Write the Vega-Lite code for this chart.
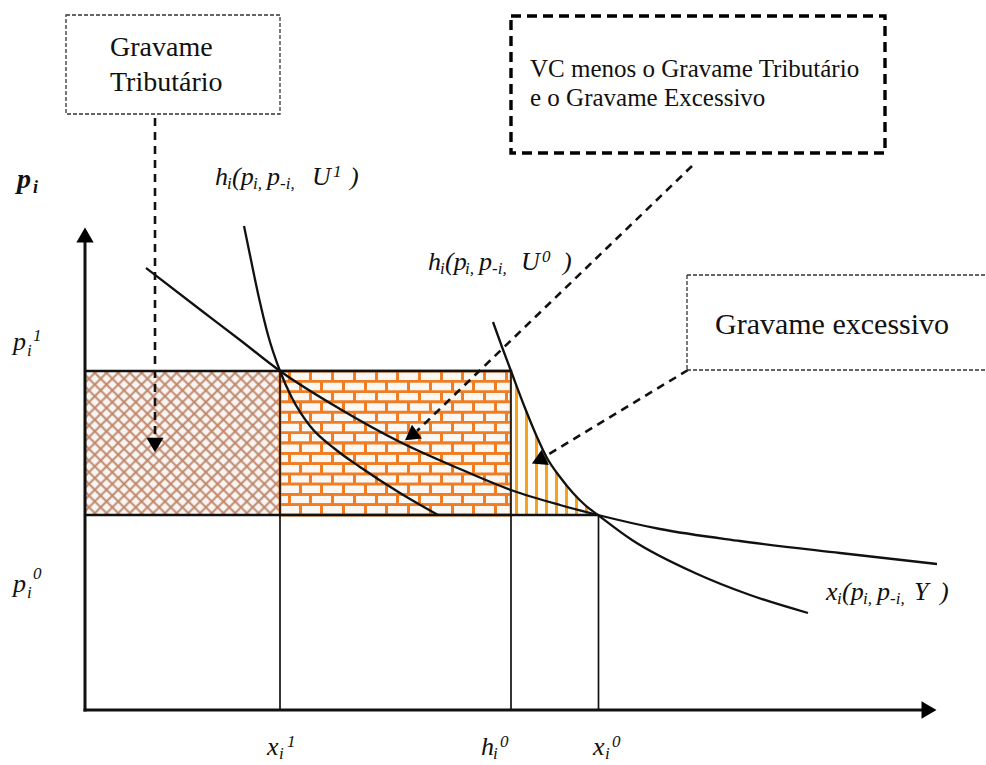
{
  "$schema": "https://vega.github.io/schema/vega-lite/v6.json",
  "width": 986,
  "height": 765,
  "padding": 0,
  "autosize": {"type": "none"},
  "background": "white",
  "config": {"view": {"stroke": null}},
  "datasets": {
    "hatch": [{"x": 85, "x2": 280, "y": 371, "y2": 515}],
    "brickA": [
      {"x": 280, "x2": 511, "y": 371, "y2": 381.3},
      {"x": 280, "x2": 511, "y": 391.6, "y2": 401.9},
      {"x": 280, "x2": 511, "y": 412.1, "y2": 422.4},
      {"x": 280, "x2": 511, "y": 432.7, "y2": 443},
      {"x": 280, "x2": 511, "y": 453.3, "y2": 463.6},
      {"x": 280, "x2": 511, "y": 473.9, "y2": 484.1},
      {"x": 280, "x2": 511, "y": 494.4, "y2": 504.7}
    ],
    "brickB": [
      {"x": 280, "x2": 511, "y": 381.3, "y2": 391.6},
      {"x": 280, "x2": 511, "y": 401.9, "y2": 412.1},
      {"x": 280, "x2": 511, "y": 422.4, "y2": 432.7},
      {"x": 280, "x2": 511, "y": 443, "y2": 453.3},
      {"x": 280, "x2": 511, "y": 463.6, "y2": 473.9},
      {"x": 280, "x2": 511, "y": 484.1, "y2": 494.4},
      {"x": 280, "x2": 511, "y": 504.7, "y2": 515}
    ],
    "tri": [
      {"x": 511, "y": 371, "y2": 515},
      {"x": 525, "y": 408, "y2": 515},
      {"x": 537, "y": 437, "y2": 515},
      {"x": 547, "y": 458, "y2": 515},
      {"x": 560, "y": 477, "y2": 515},
      {"x": 573, "y": 493, "y2": 515},
      {"x": 585, "y": 505, "y2": 515},
      {"x": 598, "y": 515, "y2": 515}
    ],
    "axes": [
      {"x": 85, "y": 242, "x2": 85, "y2": 711.5},
      {"x": 83.5, "y": 710, "x2": 925, "y2": 710}
    ],
    "hlines": [
      {"x": 85, "y": 371, "x2": 511, "y2": 371},
      {"x": 85, "y": 515, "x2": 598, "y2": 515}
    ],
    "vlines": [
      {"x": 280, "y": 371, "x2": 280, "y2": 710},
      {"x": 511, "y": 371, "x2": 511, "y2": 710},
      {"x": 598.5, "y": 515, "x2": 598.5, "y2": 710}
    ],
    "curves": [
      {"c": "x", "x": 146, "y": 268}, {"c": "x", "x": 200, "y": 309.5}, {"c": "x", "x": 240, "y": 340},
      {"c": "x", "x": 280, "y": 371}, {"c": "x", "x": 340, "y": 409}, {"c": "x", "x": 400, "y": 442},
      {"c": "x", "x": 460, "y": 469}, {"c": "x", "x": 511, "y": 490}, {"c": "x", "x": 560, "y": 505},
      {"c": "x", "x": 598, "y": 515}, {"c": "x", "x": 660, "y": 529}, {"c": "x", "x": 740, "y": 541},
      {"c": "x", "x": 840, "y": 553}, {"c": "x", "x": 937, "y": 564},
      {"c": "h1", "x": 244, "y": 226}, {"c": "h1", "x": 251, "y": 260}, {"c": "h1", "x": 259, "y": 298},
      {"c": "h1", "x": 268, "y": 335}, {"c": "h1", "x": 280, "y": 371}, {"c": "h1", "x": 292, "y": 398},
      {"c": "h1", "x": 310, "y": 426}, {"c": "h1", "x": 335, "y": 449}, {"c": "h1", "x": 360, "y": 467},
      {"c": "h1", "x": 400, "y": 493}, {"c": "h1", "x": 438, "y": 515},
      {"c": "h0", "x": 493, "y": 322}, {"c": "h0", "x": 502, "y": 347}, {"c": "h0", "x": 511, "y": 371},
      {"c": "h0", "x": 525, "y": 408}, {"c": "h0", "x": 537, "y": 437}, {"c": "h0", "x": 547, "y": 458},
      {"c": "h0", "x": 560, "y": 477}, {"c": "h0", "x": 573, "y": 493}, {"c": "h0", "x": 585, "y": 505},
      {"c": "h0", "x": 598, "y": 515}, {"c": "h0", "x": 632, "y": 540}, {"c": "h0", "x": 695, "y": 573},
      {"c": "h0", "x": 750, "y": 595}, {"c": "h0", "x": 808, "y": 613}
    ],
    "leaders": [
      {"x": 155, "y": 118, "x2": 155, "y2": 438},
      {"x": 692, "y": 166, "x2": 417, "y2": 431},
      {"x": 688, "y": 370, "x2": 549, "y2": 454}
    ],
    "axisArrows": [
      {"x": 85, "y": 235, "a": 0},
      {"x": 929, "y": 710, "a": 90}
    ],
    "leaderArrows": [
      {"x": 155, "y": 445, "a": 180},
      {"x": 411, "y": 436, "a": 234},
      {"x": 541, "y": 457, "a": 5}
    ],
    "boxA": [{"x": 66, "x2": 280, "y": 15, "y2": 114}],
    "boxB": [{"x": 511, "x2": 885, "y": 16, "y2": 153}],
    "boxC": [
      {"x": 687, "y": 275, "x2": 985, "y2": 275},
      {"x": 687, "y": 275, "x2": 687, "y2": 370},
      {"x": 687, "y": 370, "x2": 985, "y2": 370}
    ],
    "boxText": [
      {"b": "A", "x": 110, "y": 56, "t": "Gravame"},
      {"b": "A", "x": 110, "y": 91, "t": "Tributário"},
      {"b": "B", "x": 530, "y": 77, "t": "VC menos o Gravame Tributário"},
      {"b": "B", "x": 530, "y": 106, "t": "e o Gravame Excessivo"},
      {"b": "C", "x": 715, "y": 334, "t": "Gravame excessivo"}
    ],
    "math": [
      {"k": "bb", "x": 17, "y": 188, "t": "p"},
      {"k": "bs", "x": 33, "y": 193, "t": "i"},
      {"k": "b", "x": 215, "y": 185, "t": "h"},
      {"k": "s", "x": 227, "y": 189, "t": "i"},
      {"k": "b", "x": 232, "y": 185, "t": "(p"},
      {"k": "s", "x": 253, "y": 189, "t": "i,"},
      {"k": "b", "x": 267, "y": 185, "t": "p"},
      {"k": "s", "x": 280, "y": 189, "t": "-i,"},
      {"k": "b", "x": 312, "y": 185, "t": "U"},
      {"k": "s", "x": 333, "y": 177, "t": "1"},
      {"k": "b", "x": 350, "y": 185, "t": ")"},
      {"k": "b", "x": 428, "y": 270, "t": "h"},
      {"k": "s", "x": 440, "y": 274, "t": "i"},
      {"k": "b", "x": 445, "y": 270, "t": "(p"},
      {"k": "s", "x": 465, "y": 274, "t": "i,"},
      {"k": "b", "x": 479, "y": 270, "t": "p"},
      {"k": "s", "x": 492, "y": 274, "t": "-i,"},
      {"k": "b", "x": 521, "y": 270, "t": "U"},
      {"k": "s", "x": 542, "y": 262, "t": "0"},
      {"k": "b", "x": 563, "y": 270, "t": ")"},
      {"k": "b", "x": 826, "y": 600, "t": "x"},
      {"k": "s", "x": 837, "y": 604, "t": "i"},
      {"k": "b", "x": 842, "y": 600, "t": "(p"},
      {"k": "s", "x": 863, "y": 604, "t": "i,"},
      {"k": "b", "x": 877, "y": 600, "t": "p"},
      {"k": "s", "x": 890, "y": 604, "t": "-i,"},
      {"k": "b", "x": 914, "y": 600, "t": "Y"},
      {"k": "b", "x": 940, "y": 600, "t": ")"},
      {"k": "b", "x": 13, "y": 350, "t": "p"},
      {"k": "s", "x": 27, "y": 356, "t": "i"},
      {"k": "s", "x": 33, "y": 341, "t": "1"},
      {"k": "b", "x": 13, "y": 592, "t": "p"},
      {"k": "s", "x": 27, "y": 598, "t": "i"},
      {"k": "s", "x": 33, "y": 579, "t": "0"},
      {"k": "b", "x": 267, "y": 755, "t": "x"},
      {"k": "s", "x": 279, "y": 759, "t": "i"},
      {"k": "s", "x": 287, "y": 747, "t": "1"},
      {"k": "b", "x": 481, "y": 755, "t": "h"},
      {"k": "s", "x": 493, "y": 759, "t": "i"},
      {"k": "s", "x": 500, "y": 747, "t": "0"},
      {"k": "b", "x": 593, "y": 755, "t": "x"},
      {"k": "s", "x": 605, "y": 759, "t": "i"},
      {"k": "s", "x": 612, "y": 747, "t": "0"}
    ]
  },
  "encoding": {
    "x": {"field": "x", "type": "quantitative", "scale": {"domain": [0, 986], "nice": false, "zero": false}, "axis": null},
    "y": {"field": "y", "type": "quantitative", "scale": {"domain": [0, 765], "nice": false, "zero": false, "reverse": true}, "axis": null}
  },
  "layer": [
    {
      "data": {"name": "hatch"},
      "mark": {"type": "rect", "strokeWidth": 0, "fill": {"gradient": "linear", "x1": 0, "y1": 0, "x2": 1.125, "y2": 0.831, "stops": [
        {"offset": 0, "color": "#bf8466"}, {"offset": 0.008, "color": "#f7f5f3"},
        {"offset": 0.0265, "color": "#f7f5f3"}, {"offset": 0.0345, "color": "#bf8466"}, {"offset": 0.0425, "color": "#f7f5f3"},
        {"offset": 0.0610, "color": "#f7f5f3"}, {"offset": 0.0690, "color": "#bf8466"}, {"offset": 0.0770, "color": "#f7f5f3"},
        {"offset": 0.0954, "color": "#f7f5f3"}, {"offset": 0.1034, "color": "#bf8466"}, {"offset": 0.1114, "color": "#f7f5f3"},
        {"offset": 0.1299, "color": "#f7f5f3"}, {"offset": 0.1379, "color": "#bf8466"}, {"offset": 0.1459, "color": "#f7f5f3"},
        {"offset": 0.1644, "color": "#f7f5f3"}, {"offset": 0.1724, "color": "#bf8466"}, {"offset": 0.1804, "color": "#f7f5f3"},
        {"offset": 0.1989, "color": "#f7f5f3"}, {"offset": 0.2069, "color": "#bf8466"}, {"offset": 0.2149, "color": "#f7f5f3"},
        {"offset": 0.2334, "color": "#f7f5f3"}, {"offset": 0.2414, "color": "#bf8466"}, {"offset": 0.2494, "color": "#f7f5f3"},
        {"offset": 0.2679, "color": "#f7f5f3"}, {"offset": 0.2759, "color": "#bf8466"}, {"offset": 0.2839, "color": "#f7f5f3"},
        {"offset": 0.3023, "color": "#f7f5f3"}, {"offset": 0.3103, "color": "#bf8466"}, {"offset": 0.3183, "color": "#f7f5f3"},
        {"offset": 0.3368, "color": "#f7f5f3"}, {"offset": 0.3448, "color": "#bf8466"}, {"offset": 0.3528, "color": "#f7f5f3"},
        {"offset": 0.3713, "color": "#f7f5f3"}, {"offset": 0.3793, "color": "#bf8466"}, {"offset": 0.3873, "color": "#f7f5f3"},
        {"offset": 0.4058, "color": "#f7f5f3"}, {"offset": 0.4138, "color": "#bf8466"}, {"offset": 0.4218, "color": "#f7f5f3"},
        {"offset": 0.4403, "color": "#f7f5f3"}, {"offset": 0.4483, "color": "#bf8466"}, {"offset": 0.4563, "color": "#f7f5f3"},
        {"offset": 0.4748, "color": "#f7f5f3"}, {"offset": 0.4828, "color": "#bf8466"}, {"offset": 0.4908, "color": "#f7f5f3"},
        {"offset": 0.5092, "color": "#f7f5f3"}, {"offset": 0.5172, "color": "#bf8466"}, {"offset": 0.5252, "color": "#f7f5f3"},
        {"offset": 0.5437, "color": "#f7f5f3"}, {"offset": 0.5517, "color": "#bf8466"}, {"offset": 0.5597, "color": "#f7f5f3"},
        {"offset": 0.5782, "color": "#f7f5f3"}, {"offset": 0.5862, "color": "#bf8466"}, {"offset": 0.5942, "color": "#f7f5f3"},
        {"offset": 0.6127, "color": "#f7f5f3"}, {"offset": 0.6207, "color": "#bf8466"}, {"offset": 0.6287, "color": "#f7f5f3"},
        {"offset": 0.6472, "color": "#f7f5f3"}, {"offset": 0.6552, "color": "#bf8466"}, {"offset": 0.6632, "color": "#f7f5f3"},
        {"offset": 0.6817, "color": "#f7f5f3"}, {"offset": 0.6897, "color": "#bf8466"}, {"offset": 0.6977, "color": "#f7f5f3"},
        {"offset": 0.7161, "color": "#f7f5f3"}, {"offset": 0.7241, "color": "#bf8466"}, {"offset": 0.7321, "color": "#f7f5f3"},
        {"offset": 0.7506, "color": "#f7f5f3"}, {"offset": 0.7586, "color": "#bf8466"}, {"offset": 0.7666, "color": "#f7f5f3"},
        {"offset": 0.7851, "color": "#f7f5f3"}, {"offset": 0.7931, "color": "#bf8466"}, {"offset": 0.8011, "color": "#f7f5f3"},
        {"offset": 0.8196, "color": "#f7f5f3"}, {"offset": 0.8276, "color": "#bf8466"}, {"offset": 0.8356, "color": "#f7f5f3"},
        {"offset": 0.8541, "color": "#f7f5f3"}, {"offset": 0.8621, "color": "#bf8466"}, {"offset": 0.8701, "color": "#f7f5f3"},
        {"offset": 0.8886, "color": "#f7f5f3"}, {"offset": 0.8966, "color": "#bf8466"}, {"offset": 0.9046, "color": "#f7f5f3"},
        {"offset": 0.9230, "color": "#f7f5f3"}, {"offset": 0.9310, "color": "#bf8466"}, {"offset": 0.9390, "color": "#f7f5f3"},
        {"offset": 0.9575, "color": "#f7f5f3"}, {"offset": 0.9655, "color": "#bf8466"}, {"offset": 0.9735, "color": "#f7f5f3"},
        {"offset": 0.992, "color": "#f7f5f3"}, {"offset": 1, "color": "#bf8466"}
      ]}},
      "encoding": {"x2": {"field": "x2"}, "y2": {"field": "y2"}}
    },
    {
      "data": {"name": "hatch"},
      "mark": {"type": "rect", "strokeWidth": 0, "fill": {"gradient": "linear", "x1": 0, "y1": 1, "x2": 1.125, "y2": 0.169, "stops": [
        {"offset": 0, "color": "#bf8466"}, {"offset": 0.008, "color": "rgba(191,132,102,0)"},
        {"offset": 0.0265, "color": "rgba(191,132,102,0)"}, {"offset": 0.0345, "color": "#bf8466"}, {"offset": 0.0425, "color": "rgba(191,132,102,0)"},
        {"offset": 0.0610, "color": "rgba(191,132,102,0)"}, {"offset": 0.0690, "color": "#bf8466"}, {"offset": 0.0770, "color": "rgba(191,132,102,0)"},
        {"offset": 0.0954, "color": "rgba(191,132,102,0)"}, {"offset": 0.1034, "color": "#bf8466"}, {"offset": 0.1114, "color": "rgba(191,132,102,0)"},
        {"offset": 0.1299, "color": "rgba(191,132,102,0)"}, {"offset": 0.1379, "color": "#bf8466"}, {"offset": 0.1459, "color": "rgba(191,132,102,0)"},
        {"offset": 0.1644, "color": "rgba(191,132,102,0)"}, {"offset": 0.1724, "color": "#bf8466"}, {"offset": 0.1804, "color": "rgba(191,132,102,0)"},
        {"offset": 0.1989, "color": "rgba(191,132,102,0)"}, {"offset": 0.2069, "color": "#bf8466"}, {"offset": 0.2149, "color": "rgba(191,132,102,0)"},
        {"offset": 0.2334, "color": "rgba(191,132,102,0)"}, {"offset": 0.2414, "color": "#bf8466"}, {"offset": 0.2494, "color": "rgba(191,132,102,0)"},
        {"offset": 0.2679, "color": "rgba(191,132,102,0)"}, {"offset": 0.2759, "color": "#bf8466"}, {"offset": 0.2839, "color": "rgba(191,132,102,0)"},
        {"offset": 0.3023, "color": "rgba(191,132,102,0)"}, {"offset": 0.3103, "color": "#bf8466"}, {"offset": 0.3183, "color": "rgba(191,132,102,0)"},
        {"offset": 0.3368, "color": "rgba(191,132,102,0)"}, {"offset": 0.3448, "color": "#bf8466"}, {"offset": 0.3528, "color": "rgba(191,132,102,0)"},
        {"offset": 0.3713, "color": "rgba(191,132,102,0)"}, {"offset": 0.3793, "color": "#bf8466"}, {"offset": 0.3873, "color": "rgba(191,132,102,0)"},
        {"offset": 0.4058, "color": "rgba(191,132,102,0)"}, {"offset": 0.4138, "color": "#bf8466"}, {"offset": 0.4218, "color": "rgba(191,132,102,0)"},
        {"offset": 0.4403, "color": "rgba(191,132,102,0)"}, {"offset": 0.4483, "color": "#bf8466"}, {"offset": 0.4563, "color": "rgba(191,132,102,0)"},
        {"offset": 0.4748, "color": "rgba(191,132,102,0)"}, {"offset": 0.4828, "color": "#bf8466"}, {"offset": 0.4908, "color": "rgba(191,132,102,0)"},
        {"offset": 0.5092, "color": "rgba(191,132,102,0)"}, {"offset": 0.5172, "color": "#bf8466"}, {"offset": 0.5252, "color": "rgba(191,132,102,0)"},
        {"offset": 0.5437, "color": "rgba(191,132,102,0)"}, {"offset": 0.5517, "color": "#bf8466"}, {"offset": 0.5597, "color": "rgba(191,132,102,0)"},
        {"offset": 0.5782, "color": "rgba(191,132,102,0)"}, {"offset": 0.5862, "color": "#bf8466"}, {"offset": 0.5942, "color": "rgba(191,132,102,0)"},
        {"offset": 0.6127, "color": "rgba(191,132,102,0)"}, {"offset": 0.6207, "color": "#bf8466"}, {"offset": 0.6287, "color": "rgba(191,132,102,0)"},
        {"offset": 0.6472, "color": "rgba(191,132,102,0)"}, {"offset": 0.6552, "color": "#bf8466"}, {"offset": 0.6632, "color": "rgba(191,132,102,0)"},
        {"offset": 0.6817, "color": "rgba(191,132,102,0)"}, {"offset": 0.6897, "color": "#bf8466"}, {"offset": 0.6977, "color": "rgba(191,132,102,0)"},
        {"offset": 0.7161, "color": "rgba(191,132,102,0)"}, {"offset": 0.7241, "color": "#bf8466"}, {"offset": 0.7321, "color": "rgba(191,132,102,0)"},
        {"offset": 0.7506, "color": "rgba(191,132,102,0)"}, {"offset": 0.7586, "color": "#bf8466"}, {"offset": 0.7666, "color": "rgba(191,132,102,0)"},
        {"offset": 0.7851, "color": "rgba(191,132,102,0)"}, {"offset": 0.7931, "color": "#bf8466"}, {"offset": 0.8011, "color": "rgba(191,132,102,0)"},
        {"offset": 0.8196, "color": "rgba(191,132,102,0)"}, {"offset": 0.8276, "color": "#bf8466"}, {"offset": 0.8356, "color": "rgba(191,132,102,0)"},
        {"offset": 0.8541, "color": "rgba(191,132,102,0)"}, {"offset": 0.8621, "color": "#bf8466"}, {"offset": 0.8701, "color": "rgba(191,132,102,0)"},
        {"offset": 0.8886, "color": "rgba(191,132,102,0)"}, {"offset": 0.8966, "color": "#bf8466"}, {"offset": 0.9046, "color": "rgba(191,132,102,0)"},
        {"offset": 0.9230, "color": "rgba(191,132,102,0)"}, {"offset": 0.9310, "color": "#bf8466"}, {"offset": 0.9390, "color": "rgba(191,132,102,0)"},
        {"offset": 0.9575, "color": "rgba(191,132,102,0)"}, {"offset": 0.9655, "color": "#bf8466"}, {"offset": 0.9735, "color": "rgba(191,132,102,0)"},
        {"offset": 0.992, "color": "rgba(191,132,102,0)"}, {"offset": 1, "color": "#bf8466"}
      ]}},
      "encoding": {"x2": {"field": "x2"}, "y2": {"field": "y2"}}
    },
    {
      "data": {"name": "brickA"},
      "mark": {"type": "rect", "stroke": "#f07d24", "strokeWidth": 2.8, "fill": {"gradient": "linear", "x1": 0, "y1": 0, "x2": 1, "y2": 0, "stops": [
        {"offset": 0, "color": "#fbf8f4"},
        {"offset": 0.0335, "color": "#fbf8f4"}, {"offset": 0.0335, "color": "#f07d24"}, {"offset": 0.0465, "color": "#f07d24"}, {"offset": 0.0465, "color": "#fbf8f4"},
        {"offset": 0.1275, "color": "#fbf8f4"}, {"offset": 0.1275, "color": "#f07d24"}, {"offset": 0.1405, "color": "#f07d24"}, {"offset": 0.1405, "color": "#fbf8f4"},
        {"offset": 0.2215, "color": "#fbf8f4"}, {"offset": 0.2215, "color": "#f07d24"}, {"offset": 0.2345, "color": "#f07d24"}, {"offset": 0.2345, "color": "#fbf8f4"},
        {"offset": 0.3155, "color": "#fbf8f4"}, {"offset": 0.3155, "color": "#f07d24"}, {"offset": 0.3285, "color": "#f07d24"}, {"offset": 0.3285, "color": "#fbf8f4"},
        {"offset": 0.4095, "color": "#fbf8f4"}, {"offset": 0.4095, "color": "#f07d24"}, {"offset": 0.4225, "color": "#f07d24"}, {"offset": 0.4225, "color": "#fbf8f4"},
        {"offset": 0.5035, "color": "#fbf8f4"}, {"offset": 0.5035, "color": "#f07d24"}, {"offset": 0.5165, "color": "#f07d24"}, {"offset": 0.5165, "color": "#fbf8f4"},
        {"offset": 0.5975, "color": "#fbf8f4"}, {"offset": 0.5975, "color": "#f07d24"}, {"offset": 0.6105, "color": "#f07d24"}, {"offset": 0.6105, "color": "#fbf8f4"},
        {"offset": 0.6915, "color": "#fbf8f4"}, {"offset": 0.6915, "color": "#f07d24"}, {"offset": 0.7045, "color": "#f07d24"}, {"offset": 0.7045, "color": "#fbf8f4"},
        {"offset": 0.7855, "color": "#fbf8f4"}, {"offset": 0.7855, "color": "#f07d24"}, {"offset": 0.7985, "color": "#f07d24"}, {"offset": 0.7985, "color": "#fbf8f4"},
        {"offset": 0.8795, "color": "#fbf8f4"}, {"offset": 0.8795, "color": "#f07d24"}, {"offset": 0.8925, "color": "#f07d24"}, {"offset": 0.8925, "color": "#fbf8f4"},
        {"offset": 0.9735, "color": "#fbf8f4"}, {"offset": 0.9735, "color": "#f07d24"}, {"offset": 0.9865, "color": "#f07d24"}, {"offset": 0.9865, "color": "#fbf8f4"},
        {"offset": 1, "color": "#fbf8f4"}
      ]}},
      "encoding": {"x2": {"field": "x2"}, "y2": {"field": "y2"}}
    },
    {
      "data": {"name": "brickB"},
      "mark": {"type": "rect", "stroke": "#f07d24", "strokeWidth": 2.8, "fill": {"gradient": "linear", "x1": 0, "y1": 0, "x2": 1, "y2": 0, "stops": [
        {"offset": 0, "color": "#fbf8f4"},
        {"offset": 0.0805, "color": "#fbf8f4"}, {"offset": 0.0805, "color": "#f07d24"}, {"offset": 0.0935, "color": "#f07d24"}, {"offset": 0.0935, "color": "#fbf8f4"},
        {"offset": 0.1745, "color": "#fbf8f4"}, {"offset": 0.1745, "color": "#f07d24"}, {"offset": 0.1875, "color": "#f07d24"}, {"offset": 0.1875, "color": "#fbf8f4"},
        {"offset": 0.2685, "color": "#fbf8f4"}, {"offset": 0.2685, "color": "#f07d24"}, {"offset": 0.2815, "color": "#f07d24"}, {"offset": 0.2815, "color": "#fbf8f4"},
        {"offset": 0.3625, "color": "#fbf8f4"}, {"offset": 0.3625, "color": "#f07d24"}, {"offset": 0.3755, "color": "#f07d24"}, {"offset": 0.3755, "color": "#fbf8f4"},
        {"offset": 0.4565, "color": "#fbf8f4"}, {"offset": 0.4565, "color": "#f07d24"}, {"offset": 0.4695, "color": "#f07d24"}, {"offset": 0.4695, "color": "#fbf8f4"},
        {"offset": 0.5505, "color": "#fbf8f4"}, {"offset": 0.5505, "color": "#f07d24"}, {"offset": 0.5635, "color": "#f07d24"}, {"offset": 0.5635, "color": "#fbf8f4"},
        {"offset": 0.6445, "color": "#fbf8f4"}, {"offset": 0.6445, "color": "#f07d24"}, {"offset": 0.6575, "color": "#f07d24"}, {"offset": 0.6575, "color": "#fbf8f4"},
        {"offset": 0.7385, "color": "#fbf8f4"}, {"offset": 0.7385, "color": "#f07d24"}, {"offset": 0.7515, "color": "#f07d24"}, {"offset": 0.7515, "color": "#fbf8f4"},
        {"offset": 0.8325, "color": "#fbf8f4"}, {"offset": 0.8325, "color": "#f07d24"}, {"offset": 0.8455, "color": "#f07d24"}, {"offset": 0.8455, "color": "#fbf8f4"},
        {"offset": 0.9265, "color": "#fbf8f4"}, {"offset": 0.9265, "color": "#f07d24"}, {"offset": 0.9395, "color": "#f07d24"}, {"offset": 0.9395, "color": "#fbf8f4"},
        {"offset": 1, "color": "#fbf8f4"}
      ]}},
      "encoding": {"x2": {"field": "x2"}, "y2": {"field": "y2"}}
    },
    {
      "data": {"name": "tri"},
      "mark": {"type": "area", "interpolate": "monotone", "fill": {"gradient": "linear", "x1": 0, "y1": 0, "x2": 1, "y2": 0, "stops": [
        {"offset": 0, "color": "#fffdf8"},
        {"offset": 0.049, "color": "#fffdf8"}, {"offset": 0.049, "color": "#f7a21e"}, {"offset": 0.083, "color": "#f7a21e"}, {"offset": 0.083, "color": "#fffdf8"},
        {"offset": 0.164, "color": "#fffdf8"}, {"offset": 0.164, "color": "#f7a21e"}, {"offset": 0.198, "color": "#f7a21e"}, {"offset": 0.198, "color": "#fffdf8"},
        {"offset": 0.279, "color": "#fffdf8"}, {"offset": 0.279, "color": "#f7a21e"}, {"offset": 0.313, "color": "#f7a21e"}, {"offset": 0.313, "color": "#fffdf8"},
        {"offset": 0.394, "color": "#fffdf8"}, {"offset": 0.394, "color": "#f7a21e"}, {"offset": 0.428, "color": "#f7a21e"}, {"offset": 0.428, "color": "#fffdf8"},
        {"offset": 0.509, "color": "#fffdf8"}, {"offset": 0.509, "color": "#f7a21e"}, {"offset": 0.543, "color": "#f7a21e"}, {"offset": 0.543, "color": "#fffdf8"},
        {"offset": 0.624, "color": "#fffdf8"}, {"offset": 0.624, "color": "#f7a21e"}, {"offset": 0.658, "color": "#f7a21e"}, {"offset": 0.658, "color": "#fffdf8"},
        {"offset": 0.739, "color": "#fffdf8"}, {"offset": 0.739, "color": "#f7a21e"}, {"offset": 0.773, "color": "#f7a21e"}, {"offset": 0.773, "color": "#fffdf8"},
        {"offset": 0.854, "color": "#fffdf8"}, {"offset": 0.854, "color": "#f7a21e"}, {"offset": 0.888, "color": "#f7a21e"}, {"offset": 0.888, "color": "#fffdf8"},
        {"offset": 0.969, "color": "#fffdf8"}, {"offset": 0.969, "color": "#f7a21e"}, {"offset": 1, "color": "#f7a21e"}
      ]}},
      "encoding": {"y2": {"field": "y2"}}
    },
    {
      "data": {"name": "axes"},
      "mark": {"type": "rule", "color": "#111", "strokeWidth": 3},
      "encoding": {"x2": {"field": "x2"}, "y2": {"field": "y2"}}
    },
    {
      "data": {"name": "hlines"},
      "mark": {"type": "rule", "color": "#111", "strokeWidth": 2.6},
      "encoding": {"x2": {"field": "x2"}, "y2": {"field": "y2"}}
    },
    {
      "data": {"name": "vlines"},
      "mark": {"type": "rule", "color": "#111", "strokeWidth": 1.7},
      "encoding": {"x2": {"field": "x2"}, "y2": {"field": "y2"}}
    },
    {
      "data": {"name": "curves"},
      "mark": {"type": "line", "interpolate": "monotone", "color": "#111", "strokeWidth": 2.3},
      "encoding": {"detail": {"field": "c", "type": "nominal"}}
    },
    {
      "data": {"name": "leaders"},
      "mark": {"type": "rule", "color": "#111", "strokeWidth": 2.6, "strokeDash": [8, 6]},
      "encoding": {"x2": {"field": "x2"}, "y2": {"field": "y2"}}
    },
    {
      "data": {"name": "axisArrows"},
      "mark": {"type": "point", "shape": "triangle-up", "filled": true, "color": "#000", "opacity": 1, "size": 300, "strokeWidth": 0},
      "encoding": {"angle": {"field": "a", "type": "quantitative", "scale": null}}
    },
    {
      "data": {"name": "leaderArrows"},
      "mark": {"type": "point", "shape": "triangle-up", "filled": true, "color": "#000", "opacity": 1, "size": 290, "strokeWidth": 0},
      "encoding": {"angle": {"field": "a", "type": "quantitative", "scale": null}}
    },
    {
      "data": {"name": "boxA"},
      "mark": {"type": "rect", "fill": null, "fillOpacity": 0, "stroke": "#333", "strokeWidth": 1.3, "strokeDash": [4, 2]},
      "encoding": {"x2": {"field": "x2"}, "y2": {"field": "y2"}}
    },
    {
      "data": {"name": "boxB"},
      "mark": {"type": "rect", "fill": null, "fillOpacity": 0, "stroke": "#000", "strokeWidth": 3.4, "strokeDash": [10, 6]},
      "encoding": {"x2": {"field": "x2"}, "y2": {"field": "y2"}}
    },
    {
      "data": {"name": "boxC"},
      "mark": {"type": "rule", "color": "#333", "strokeWidth": 1.3, "strokeDash": [4, 2]},
      "encoding": {"x2": {"field": "x2"}, "y2": {"field": "y2"}}
    },
    {
      "data": {"name": "boxText"},
      "transform": [{"filter": "datum.b == 'A'"}],
      "mark": {"type": "text", "font": "Liberation Serif", "fontSize": 28, "align": "left", "baseline": "alphabetic", "color": "#111"},
      "encoding": {"text": {"field": "t"}}
    },
    {
      "data": {"name": "boxText"},
      "transform": [{"filter": "datum.b == 'B'"}],
      "mark": {"type": "text", "font": "Liberation Serif", "fontSize": 25, "align": "left", "baseline": "alphabetic", "color": "#111"},
      "encoding": {"text": {"field": "t"}}
    },
    {
      "data": {"name": "boxText"},
      "transform": [{"filter": "datum.b == 'C'"}],
      "mark": {"type": "text", "font": "Liberation Serif", "fontSize": 30, "align": "left", "baseline": "alphabetic", "color": "#111"},
      "encoding": {"text": {"field": "t"}}
    },
    {
      "data": {"name": "math"},
      "transform": [{"filter": "datum.k == 'b'"}],
      "mark": {"type": "text", "font": "Liberation Serif", "fontStyle": "italic", "fontSize": 26, "align": "left", "baseline": "alphabetic", "color": "#111"},
      "encoding": {"text": {"field": "t"}}
    },
    {
      "data": {"name": "math"},
      "transform": [{"filter": "datum.k == 's'"}],
      "mark": {"type": "text", "font": "Liberation Serif", "fontStyle": "italic", "fontSize": 17, "align": "left", "baseline": "alphabetic", "color": "#111"},
      "encoding": {"text": {"field": "t"}}
    },
    {
      "data": {"name": "math"},
      "transform": [{"filter": "datum.k == 'bb'"}],
      "mark": {"type": "text", "font": "Liberation Serif", "fontStyle": "italic", "fontWeight": "bold", "fontSize": 28, "align": "left", "baseline": "alphabetic", "color": "#111"},
      "encoding": {"text": {"field": "t"}}
    },
    {
      "data": {"name": "math"},
      "transform": [{"filter": "datum.k == 'bs'"}],
      "mark": {"type": "text", "font": "Liberation Serif", "fontStyle": "italic", "fontWeight": "bold", "fontSize": 18, "align": "left", "baseline": "alphabetic", "color": "#111"},
      "encoding": {"text": {"field": "t"}}
    }
  ]
}
